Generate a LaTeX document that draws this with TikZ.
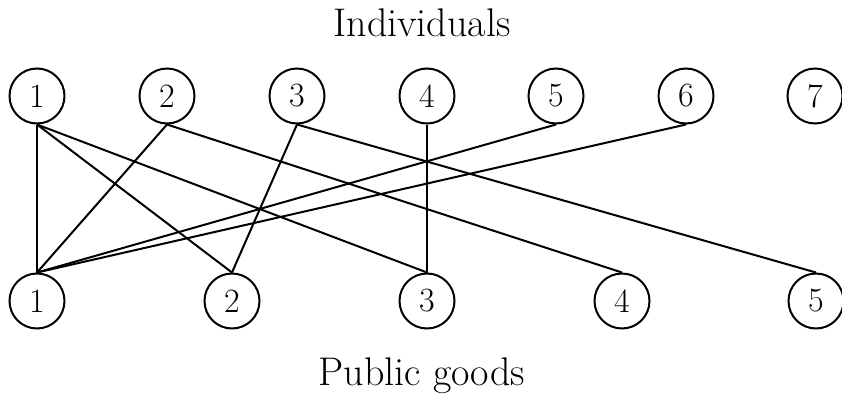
\documentclass[tikz,border=0pt]{standalone}
\begin{document}
\begin{tikzpicture}[x=0.5pt,y=-0.5pt,
  vtx/.style={circle,draw,line width=1pt,minimum size=27.5pt,inner sep=0pt,font=\fontsize{17}{19}\selectfont},
  edge/.style={line width=1pt},
  ttl/.style={anchor=base,font=\fontsize{20}{24}\selectfont}]
\useasboundingbox (0,0) rectangle (842,396);
\node[ttl] (ti) at (422,37) {Individuals};
\node[ttl] (tp) at (422,385) {Public goods};
\foreach \i/\x in {1/37,2/167,3/297,4/427,5/556,6/686,7/815}
  \node[vtx] (t\i) at (\x,96) {\i};
\foreach \i/\x in {1/37,2/232,3/427,4/622,5/816}
  \node[vtx] (b\i) at (\x,301) {\i};
\foreach \a/\b in {1/1,1/2,1/3,2/1,2/4,3/2,3/5,4/3,5/1,6/1}
  \draw[edge] (t\a.south) -- (b\b.north);
\end{tikzpicture}
\end{document}
